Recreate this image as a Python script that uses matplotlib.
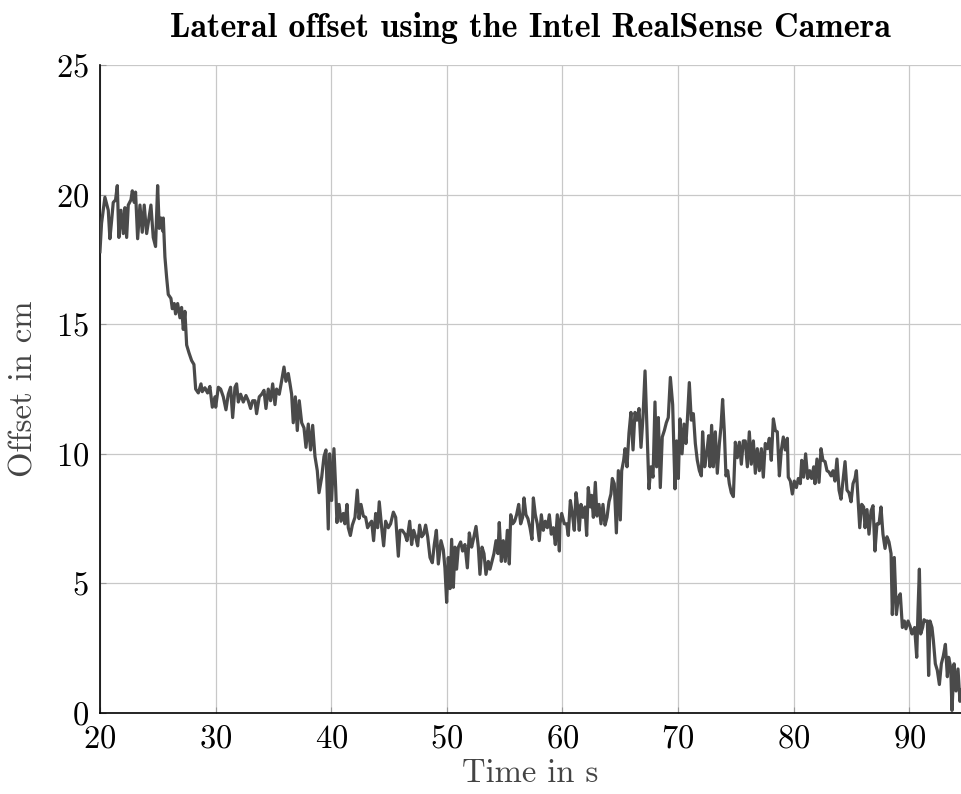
import matplotlib
matplotlib.use("Agg")
import matplotlib.pyplot as plt

# lateral offset readings (time in s, offset in cm)
time_s = [
    20.00, 20.14, 20.43, 20.72, 20.86, 21.01, 21.15, 21.35, 21.50, 21.64, 21.82, 22.02, 22.16, 22.31,
    22.45, 22.68, 22.80, 22.97, 23.08, 23.26, 23.46, 23.66, 23.83, 24.04, 24.24, 24.41, 24.61, 24.81,
    24.99, 25.13, 25.28, 25.42, 25.48, 25.62, 25.77, 25.91, 26.14, 26.26, 26.43, 26.54, 26.72, 26.92,
    27.06, 27.21, 27.35, 27.50, 27.70, 27.93, 28.13, 28.28, 28.51, 28.74, 28.85, 29.08, 29.31, 29.51,
    29.72, 29.95,
    30.01, 30.24, 30.44, 30.67, 30.90, 31.10, 31.30, 31.48, 31.68, 31.82, 31.97, 32.17, 32.40, 32.63,
    32.83, 33.03, 33.21, 33.41, 33.55, 33.78, 33.99, 34.19, 34.36, 34.56, 34.76, 34.94, 35.14, 35.28,
    35.51, 35.69, 35.92, 36.09, 36.29, 36.44, 36.58, 36.72, 36.90, 37.07, 37.24, 37.45, 37.65, 37.82,
    38.02, 38.22, 38.40, 38.60, 38.80, 38.95, 39.18, 39.38, 39.55,
    39.75, 39.87, 40.04, 40.24, 40.39, 40.50, 40.68, 40.85, 41.05, 41.19, 41.37, 41.48, 41.66, 41.83,
    42.06, 42.26, 42.41, 42.58, 42.78, 42.98, 43.15, 43.33, 43.50, 43.67, 43.85, 44.02, 44.16, 44.37,
    44.54, 44.71, 44.94, 45.14, 45.38, 45.58, 45.81, 45.95, 46.15, 46.38, 46.56, 46.79, 46.96, 47.13,
    47.31, 47.48, 47.65, 47.83, 48.00, 48.17, 48.35, 48.55, 48.75, 48.92, 49.10, 49.27, 49.50, 49.70,
    49.84,
    49.99, 50.13, 50.28, 50.42, 50.57, 50.71, 50.85, 51.00, 51.20, 51.37, 51.57, 51.78, 51.95, 52.15,
    52.30, 52.53, 52.73, 52.87, 53.05, 53.22, 53.39, 53.59, 53.74, 53.91, 54.08, 54.26, 54.43, 54.54,
    54.72, 54.89, 55.06, 55.24, 55.41, 55.53, 55.70, 55.87, 56.04, 56.22, 56.39, 56.56, 56.68, 56.85,
    57.02, 57.20, 57.37, 57.49, 57.66, 57.83, 58.00, 58.18, 58.35, 58.52, 58.70, 58.87, 59.04, 59.22,
    59.39, 59.56, 59.74,
    59.79, 59.94, 60.17, 60.37, 60.51, 60.69, 60.86, 61.03, 61.18, 61.32, 61.46, 61.61, 61.78, 61.95,
    62.10, 62.24, 62.42, 62.53, 62.68, 62.85, 62.99, 63.17, 63.34, 63.51, 63.69, 63.86, 64.03, 64.20,
    64.32, 64.49, 64.67, 64.84, 65.01, 65.13, 65.30, 65.42, 65.59, 65.76, 65.93, 66.11, 66.28, 66.45,
    66.63, 66.80, 66.97, 67.15, 67.32, 67.49, 67.66, 67.84, 68.01, 68.15, 68.30, 68.47, 68.64, 68.82,
    68.99, 69.16, 69.34,
    69.54, 69.74, 69.88, 70.03, 70.17, 70.35, 70.52, 70.69, 70.81, 70.98, 71.15, 71.33, 71.50, 71.67,
    71.85, 72.02, 72.13, 72.31, 72.48, 72.65, 72.77, 72.91, 73.06, 73.23, 73.40, 73.58, 73.72, 73.86,
    74.01, 74.15, 74.30, 74.44, 74.61, 74.79, 74.96, 75.13, 75.31, 75.48, 75.65, 75.82, 76.00, 76.17,
    76.34, 76.52, 76.69, 76.86, 77.04, 77.21, 77.38, 77.55, 77.73, 77.90, 78.07, 78.25, 78.42, 78.59,
    78.77, 78.94, 79.11, 79.28, 79.46,
    79.54, 79.72, 79.89, 80.06, 80.24, 80.41, 80.58, 80.70, 80.87, 81.04, 81.22, 81.39, 81.56, 81.74,
    81.85, 82.02, 82.20, 82.37, 82.54, 82.72, 82.89, 83.06, 83.24, 83.41, 83.58, 83.75, 83.93, 84.10,
    84.27, 84.45, 84.62, 84.79, 84.97, 85.14, 85.31, 85.43, 85.60, 85.72, 85.89, 86.06, 86.18, 86.35,
    86.52, 86.70, 86.87, 87.04, 87.21, 87.39, 87.56, 87.73, 87.91, 88.08, 88.25, 88.43, 88.54, 88.71,
    88.89, 89.06, 89.23, 89.41, 89.58,
    89.72, 89.90, 90.07, 90.24, 90.36, 90.47, 90.65, 90.76, 90.88, 90.99, 91.16, 91.28, 91.40, 91.57,
    91.68, 91.80, 91.97, 92.09, 92.26, 92.43, 92.61, 92.78, 92.95, 93.13, 93.30, 93.41, 93.59, 93.70,
    93.88, 94.05, 94.22, 94.39, 94.48,
]

offset_cm = [
    17.8, 18.9, 19.9, 19.4, 18.3, 19.0, 19.7, 19.8, 20.35, 18.35, 19.4, 18.5, 19.5, 18.35,
    19.6, 19.8, 20.15, 19.7, 20.1, 18.3, 19.6, 18.55, 19.6, 18.5, 19.1, 19.6, 18.35, 18.0,
    20.35, 18.7, 19.1, 18.6, 19.1, 17.6, 16.8, 16.15, 16.0, 15.6, 15.8, 15.4, 15.8, 15.25,
    15.65, 14.8, 15.5, 14.2, 13.9, 13.6, 13.45, 12.5, 12.35, 12.7, 12.4, 12.55, 12.35, 12.6,
    11.8, 12.2,
    11.8, 12.57, 12.5, 12.2, 11.7, 12.3, 12.57, 11.4, 12.57, 12.7, 12.0, 12.3, 12.0, 12.25,
    12.05, 11.75, 12.05, 12.05, 11.55, 12.2, 12.3, 12.45, 11.75, 12.5, 12.05, 12.7, 11.9, 12.5,
    12.3, 12.75, 13.35, 12.8, 13.1, 12.7, 12.3, 11.2, 12.2, 10.9, 12.05, 11.2, 11.0, 10.25,
    11.15, 10.15, 11.1, 9.9, 9.35, 8.5, 9.1, 9.9, 10.15,
    7.1, 10.0, 8.2, 10.2, 8.7, 7.35, 8.05, 7.4, 7.7, 7.3, 8.05, 7.15, 6.85, 7.25,
    7.55, 8.6, 7.5, 8.05, 7.6, 7.55, 7.15, 7.3, 7.4, 6.65, 7.7, 7.15, 8.15, 7.15,
    6.45, 7.4, 7.15, 7.3, 7.75, 7.55, 6.05, 7.05, 7.05, 6.9, 6.65, 7.4, 6.5, 7.05,
    6.8, 6.45, 7.25, 6.8, 6.9, 7.25, 6.8, 6.0, 5.8, 6.5, 7.05, 5.75, 6.65, 6.3,
    5.6,
    4.27, 6.0, 4.8, 6.7, 4.85, 6.4, 5.55, 6.4, 6.6, 6.25, 6.5, 5.6, 6.95, 6.4,
    6.7, 7.2, 6.4, 5.35, 6.4, 6.15, 5.35, 5.85, 5.55, 5.85, 6.15, 6.65, 6.15, 7.35,
    5.85, 6.65, 5.85, 7.05, 5.75, 7.65, 7.3, 7.4, 7.65, 8.05, 7.3, 7.55, 8.3, 7.65,
    7.5, 7.15, 6.7, 8.3, 7.65, 7.3, 6.65, 7.65, 7.05, 7.4, 7.15, 7.65, 6.9, 7.15,
    6.5, 7.65, 6.25,
    7.3, 7.7, 7.3, 7.3, 6.85, 8.2, 7.7, 7.05, 8.5, 7.95, 7.05, 8.05, 7.55, 7.95,
    6.85, 8.7, 7.95, 8.4, 7.55, 8.9, 7.6, 8.05, 7.3, 8.05, 7.25, 7.55, 8.15, 8.45,
    9.05, 8.85, 6.95, 9.35, 7.45, 9.35, 9.75, 10.2, 9.5, 10.8, 11.6, 10.15, 11.6, 11.3,
    11.75, 10.25, 11.4, 13.2, 10.9, 8.65, 9.5, 9.1, 12.0, 9.5, 11.4, 8.7, 10.65, 10.9,
    11.2, 11.4, 12.95,
    11.9, 8.65, 10.5, 9.05, 11.35, 10.0, 11.15, 10.4, 11.3, 12.75, 11.3, 11.55, 10.4, 9.75,
    9.35, 9.15, 10.85, 9.5, 10.0, 10.7, 9.5, 11.1, 9.5, 10.85, 9.25, 10.4, 11.05, 12.1,
    10.85, 9.15, 9.35, 8.85, 8.5, 8.35, 10.45, 9.85, 10.45, 9.6, 10.5, 10.5, 9.5, 10.85,
    9.6, 10.5, 9.25, 10.2, 9.35, 10.2, 9.1, 10.4, 10.2, 10.6, 9.75, 11.35, 10.9, 10.85,
    9.15, 10.15, 10.65, 10.15, 10.6,
    9.1, 8.95, 8.45, 8.95, 8.7, 9.05, 8.85, 9.75, 9.1, 10.0, 9.05, 9.35, 9.05, 9.5,
    8.85, 9.8, 8.9, 10.2, 9.75, 9.7, 9.35, 9.3, 9.15, 9.35, 8.95, 9.8, 8.6, 8.25,
    8.95, 9.7, 8.6, 8.5, 8.15, 8.85, 9.05, 9.35, 8.05, 7.15, 8.05, 7.95, 7.15, 7.85,
    6.9, 7.8, 8.0, 6.25, 7.3, 7.3, 7.95, 6.9, 6.35, 6.8, 6.6, 6.15, 3.8, 6.0,
    3.8, 4.45, 4.6, 3.3, 3.55,
    3.25, 3.55, 3.35, 3.05, 3.2, 3.3, 2.15, 3.95, 5.55, 3.05, 3.3, 3.6, 3.55, 3.55,
    1.45, 3.55, 3.3, 2.8, 1.9, 1.65, 1.1, 1.9, 2.2, 2.65, 1.4, 2.15, 1.75, 0.1,
    1.9, 0.85, 1.7, 0.45, 0.9,
]

x_ticks = [20, 30, 40, 50, 60, 70, 80, 90]
y_ticks = [0, 5, 10, 15, 20, 25]

plt.rcParams["font.family"] = "cmr10"
plt.rcParams["axes.formatter.use_mathtext"] = True
plt.rcParams["mathtext.fontset"] = "cm"

fig = plt.figure(figsize=(9.61, 7.94), dpi=100)
ax = fig.add_axes([0.104, 0.102, 0.896, 0.816])

ax.plot(time_s, offset_cm, color="#4a4a4a", linewidth=2.3, zorder=3)

ax.set_xlim(20, 94.48)
ax.set_ylim(0, 25)
ax.set_xticks(x_ticks)
ax.set_yticks(y_ticks)
ax.grid(True, color="#c8c8c8", linewidth=0.9)
ax.set_axisbelow(True)

for side in ["top", "right"]:
    ax.spines[side].set_visible(False)
for side in ["left", "bottom"]:
    ax.spines[side].set_linewidth(1.2)
    ax.spines[side].set_color("black")

ax.tick_params(direction="in", length=4, color="#999999", labelsize=23.5, pad=8)

ax.set_xlabel("Time in s", fontsize=23.5, color="#444444", labelpad=4)
ax.set_ylabel("Offset in cm", fontsize=23.5, color="#444444", labelpad=12)
ax.set_title("Lateral offset using the Intel RealSense Camera", fontsize=24.5,
             family="cmb10", pad=20)

fig.savefig("out.png", dpi=100)
